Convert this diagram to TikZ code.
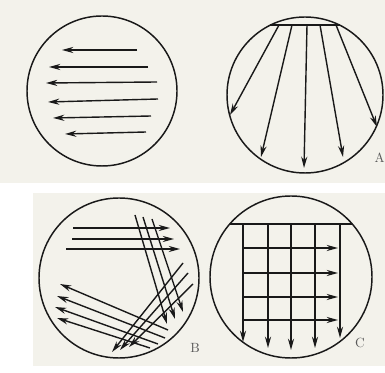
\documentclass[tikz,border=0pt]{standalone}
\usetikzlibrary{arrows.meta}
\definecolor{paper}{RGB}{243,242,235}
\definecolor{ink}{RGB}{25,25,25}
\definecolor{lettergray}{RGB}{90,90,90}
\begin{document}
\begin{tikzpicture}[x=0.75pt,y=-0.75pt,font=\normalsize,
	ray/.style={ink,line width=1.05pt,-{Stealth[length=8.5pt,width=4.6pt]}},
	rim/.style={ink,line width=1.1pt},
	tag/.style={lettergray,inner sep=0pt}]
	\useasboundingbox (0,0) rectangle (385,373);
	\fill[white] (0,0) rectangle (385,373);
	\fill[paper] (0,0) rectangle (385,183);
	\fill[paper] (33,193) rectangle (385,366);
	% parallel
	\draw[rim] (102,91) circle[radius=75];
	\draw[ray] (137,50)--(62,50);
	\draw[ray] (148,67)--(49,67);
	\draw[ray] (157,82)--(46,83);
	\draw[ray] (158,99)--(48,102);
	\draw[ray] (151,116)--(53,118);
	\draw[ray] (146,132)--(65,134);
	% diverging
	\draw[rim] (305,95) circle[radius=78];
	\draw[rim] (270,25)--(340,25);
	\draw[ray] (279,25)--(230,115);
	\draw[ray] (292,25)--(261,157);
	\draw[ray] (307,25)--(304,168);
	\draw[ray] (320,25)--(343,157);
	\draw[ray] (336,25)--(377,127);
	\node[tag,anchor=east] (labA) at (385,158) {A};
	% crossing
	\draw[rim] (119,278) circle[radius=80];
	\draw[ray] (73,228)--(170,228);
	\draw[ray] (72,239)--(174,239);
	\draw[ray] (66,249)--(180,249);
	\draw[ray] (135,215)--(167,324);
	\draw[ray] (143,217)--(175,319);
	\draw[ray] (152,219)--(183,312);
	\draw[ray] (168,330)--(60,284);
	\draw[ray] (165,338)--(57,296);
	\draw[ray] (158,344)--(55,307);
	\draw[ray] (150,348)--(57,318);
	\draw[ray] (183,263)--(112,352);
	\draw[ray] (188,273)--(120,350);
	\draw[ray] (193,284)--(129,347);
	\node[tag] (labB) at (195,348) {B};
	% grid
	\draw[rim] (291,277) circle[radius=81];
	\draw[rim] (230,224)--(352,224);
	\foreach \x/\y in {243/342,268/348,291/350,315/348,340/338}
		\draw[ray] (\x,224)--(\x,\y);
	\foreach \y in {248,273,297,320}
		\draw[ray] (243,\y)--(338,\y);
	\node[tag] (labC) at (360,343) {C};
\end{tikzpicture}
\end{document}
